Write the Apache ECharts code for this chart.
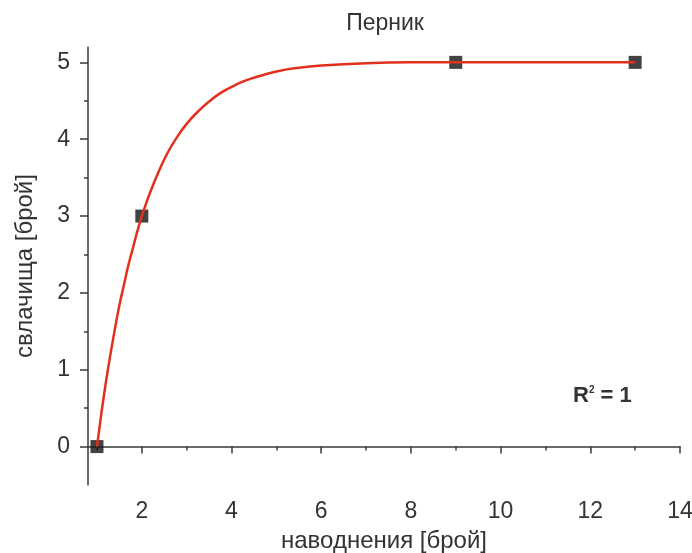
<!DOCTYPE html>
<html>
<head>
<meta charset="utf-8">
<script src="https://cdn.jsdelivr.net/npm/echarts@6/dist/echarts.min.js"></script>
<style>
html,body{margin:0;padding:0;background:#fff;}
#c{width:692px;height:553px;}
</style>
</head>
<body>
<div id="c"></div>
<script>
// Measured points
const pointX = [1, 2, 9, 13];
const pointY = [0, 3, 5, 5];
// Fitted curve
const fitX = [1, 1.1, 1.2, 1.3, 1.4, 1.5, 1.6, 1.7, 1.8, 1.9, 2.0, 2.2, 2.4, 2.6, 2.8, 3.0, 3.25, 3.5, 3.75, 4.0, 4.25, 4.5, 5.0, 5.5, 6.0, 7.0, 8.0, 10, 13];
const fitY = [0, 0.44, 0.84, 1.2, 1.53, 1.84, 2.1, 2.36, 2.58, 2.8, 3.0, 3.33, 3.61, 3.85, 4.04, 4.2, 4.36, 4.49, 4.6, 4.68, 4.75, 4.8, 4.88, 4.93, 4.96, 4.99, 5.0, 5.0, 5.0];
// Tick labels / positions
const xMajor = [2, 4, 6, 8, 10, 12, 14];
const xMinor = [1, 3, 5, 7, 9, 11, 13];
const yMajor = [0, 1, 2, 3, 4, 5];
const yMinor = [0.5, 1.5, 2.5, 3.5, 4.5];
const titleText = 'Перник';
const xName = 'наводнения [брой]';
const yName = 'свлачища [брой]';

const FONT = '"Liberation Sans", Arial, sans-serif';
const TXT = '#333';
const AX = '#3a3a3a';

const chart = echarts.init(document.getElementById('c'), null, {renderer: 'canvas'});
const scatterData = pointX.map((x, i) => [x, pointY[i]]);
const fitData = fitX.map((x, i) => [x, fitY[i]]);

chart.setOption({
  animation: false,
  backgroundColor: '#fff',
  title: {
    text: titleText,
    left: 380,
    textAlign: 'center',
    top: 7,
    textStyle: {fontFamily: FONT, fontSize: 23, fontWeight: 'normal', color: TXT}
  },
  grid: {left: 88, right: 12, top: 47, bottom: 68, containLabel: false, outerBoundsMode: 'none'},
  xAxis: [
    {
      type: 'value', min: 0.8, max: 14, gridIndex: 0, position: 'bottom',
      name: xName, nameLocation: 'middle', nameGap: 44,
      nameTextStyle: {fontFamily: FONT, fontSize: 24, color: TXT},
      axisLine: {show: true, lineStyle: {color: AX, width: 1.5}},
      axisTick: {show: true, customValues: xMajor, length: 7, lineStyle: {color: AX, width: 1.5}},
      axisLabel: {show: true, customValues: xMajor, margin: 15, fontFamily: FONT, fontSize: 23, color: TXT},
      splitLine: {show: false}
    },
    {
      type: 'value', min: 0.8, max: 14, gridIndex: 0, position: 'bottom',
      axisLine: {show: false},
      axisTick: {show: true, customValues: xMinor, length: 4, lineStyle: {color: AX, width: 1.5}},
      axisLabel: {show: false},
      splitLine: {show: false}
    }
  ],
  yAxis: [
    {
      type: 'value', min: -0.5, max: 5.2, gridIndex: 0, position: 'left',
      name: yName, nameLocation: 'middle', nameGap: 51,
      nameTextStyle: {fontFamily: FONT, fontSize: 24, color: TXT},
      axisLine: {show: true, lineStyle: {color: AX, width: 1.5}},
      axisTick: {show: true, customValues: yMajor, length: 8, lineStyle: {color: AX, width: 1.5}},
      axisLabel: {show: true, customValues: yMajor, margin: 18, fontFamily: FONT, fontSize: 23, color: TXT},
      splitLine: {show: false}
    },
    {
      type: 'value', min: -0.5, max: 5.2, gridIndex: 0, position: 'left',
      axisLine: {show: false},
      axisTick: {show: true, customValues: yMinor, length: 4, lineStyle: {color: AX, width: 1.5}},
      axisLabel: {show: false},
      splitLine: {show: false}
    }
  ],
  series: [
    {
      type: 'scatter', xAxisIndex: 0, yAxisIndex: 0,
      symbol: 'rect', symbolSize: 13,
      itemStyle: {color: '#141414'},
      data: scatterData, z: 2
    },
    {
      type: 'line', xAxisIndex: 0, yAxisIndex: 0,
      smooth: 0.5, showSymbol: false,
      lineStyle: {color: '#e3301c', width: 2.5},
      data: fitData, z: 3
    }
  ],
  graphic: [
    {
      type: 'text', left: 573, top: 385, z: 10,
      style: {
        text: '{a|R}{b|2}{a| = 1}',
        rich: {
          a: {fontFamily: FONT, fontSize: 22, fontWeight: 'bold', fill: TXT, verticalAlign: 'bottom'},
          b: {fontFamily: FONT, fontSize: 10, fontWeight: 'bold', fill: TXT, verticalAlign: 'top', padding: [0, 0, 12, 0]}
        }
      }
    }
  ]
});
</script>
</body>
</html>
